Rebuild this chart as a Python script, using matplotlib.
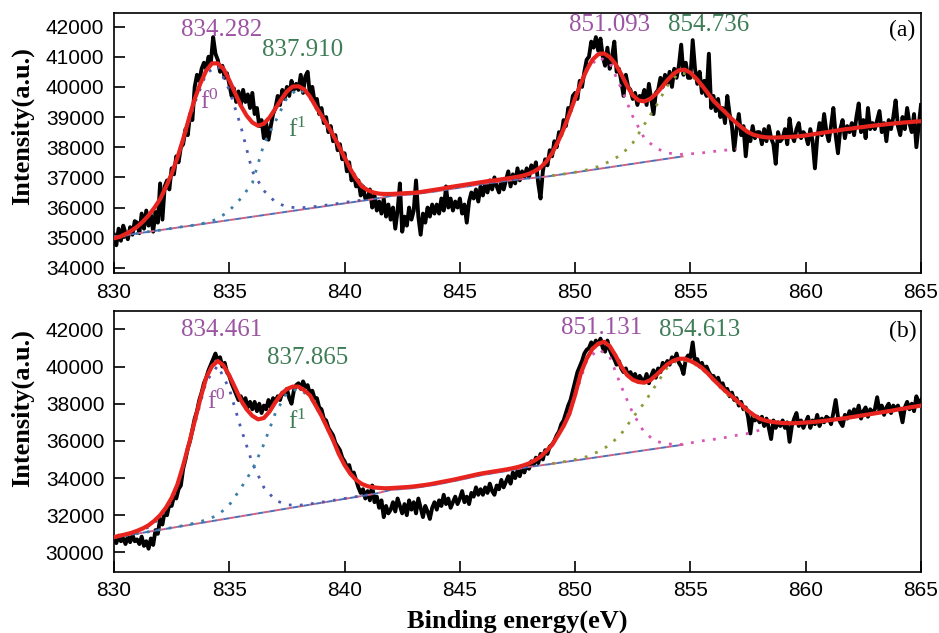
import numpy as np
import matplotlib
matplotlib.use("Agg")
import matplotlib.pyplot as plt

plt.rcParams['font.family'] = 'Liberation Sans'
plt.rcParams['mathtext.fontset'] = 'custom'
plt.rcParams['mathtext.rm'] = 'Liberation Serif'
plt.rcParams['mathtext.it'] = 'Liberation Serif:italic'

# binding energy grids (eV)
energy = np.linspace(830, 865, 351)      # measured spectrum, 0.1 eV step
energy_fit = np.linspace(830, 865, 141)  # fitted envelope, 0.25 eV step

# ---- panel (a) measured spectrum ----
spec_a = [
    35100, 34750, 35300, 34900, 35400, 35150, 34950, 35350, 35100, 35550,
    35500, 35150, 35800, 35300, 35900, 35400, 35750, 35200, 35850, 35500,
    36800, 35600, 36700, 36900, 36600, 37300, 37100, 37700, 37500, 38000,
    38100, 38600, 38400, 39100, 38900, 40000, 40400, 40200, 40600, 40800,
    40600, 41000, 40800, 41650, 41100, 40900, 40500, 40700, 40300, 40450,
    40100, 39700, 39950, 39500, 39850, 39400, 39900, 39500, 39750, 39300,
    39800, 39100, 39300, 38700, 38900, 38300, 38800, 38250, 38700, 39100,
    39300, 39700, 39400, 39900, 39600, 40000, 39700, 40200, 39900, 40100,
    39900, 40400, 39800, 40350, 40500, 39700, 40000, 39500, 39600, 39100,
    39300, 38800, 39000, 38500, 38700, 38200, 38400, 37900, 38100, 37600,
    37800, 37200, 37500, 36900, 37100, 36700, 36900, 36400, 36700, 36300,
    36300, 36600, 36000, 36400, 35900, 36200, 35800, 36300, 35700, 36100,
    35600, 36000, 35300, 35900, 36800, 35200, 35700, 35400, 36000, 35600,
    35900, 36900, 35700, 35100, 35800, 35500, 36000, 35700, 36100, 35800,
    36100, 35800, 36300, 35900, 36700, 36000, 36300, 35900, 36200, 36000,
    36300, 35800, 36100, 35500, 36200, 36500, 36300, 36600, 36200, 36700,
    36400, 36800, 36500, 36900, 36600, 37000, 36700, 36500, 36900, 36600,
    36900, 37200, 36700, 37100, 36800, 37300, 36900, 37200, 37000, 37300,
    37000, 37400, 37200, 37500, 36800, 36300, 37200, 37600, 37400, 37900,
    37700, 38200, 38000, 38500, 38400, 38900, 38700, 39300, 39200, 39700,
    39800, 39600, 40200, 40000, 40500, 40900, 41000, 41500, 41300, 41650,
    41200, 41600, 41000, 40700, 41300, 40600, 41000, 41500, 40500, 40600,
    40200, 39700, 40400, 40000, 39900, 39600, 39800, 39400, 39700, 39600,
    39900, 39400, 40100, 39600, 39100, 39800, 39900, 40300, 40000, 40400,
    40100, 40500, 40000, 40600, 40300, 40700, 41400, 40400, 40800, 40300,
    40300, 41550, 40600, 40100, 40500, 39800, 40200, 39700, 41100, 39300,
    39700, 39200, 39600, 39000, 39300, 38800, 39700, 39100, 38700, 37900,
    38600, 39100, 38400, 38700, 37700, 38500, 38200, 38700, 38300, 38500,
    38500, 38100, 38600, 38200, 38700, 38300, 38100, 37450, 38500, 38200,
    38300, 38600, 38100, 38950, 38400, 38200, 38600, 38800, 38300, 38500,
    38400, 38100, 38600, 38200, 37300, 38300, 38800, 38400, 39100, 38500,
    38200, 38700, 39300, 38400, 37800, 38600, 38900, 38300, 38700, 38500,
    38800, 38400, 39000, 39450, 38500, 38900, 38300, 39300, 38600, 38800,
    38600, 38900, 39200, 38500, 38800, 38200, 38900, 38600, 39000, 39550,
    38700, 38400, 39000, 38600, 39300, 38800, 38500, 39100, 38000, 38700,
    39400]

fit_a = [
    34980, 35030, 35120, 35230, 35360, 35530, 35740, 35990, 36280, 36680,
    37120, 37650, 38270, 38950, 39600, 40120, 40540, 40780, 40780, 40600,
    40220, 39800, 39380, 39050, 38820, 38710, 38780, 38990, 39280, 39580,
    39850, 40010, 40020, 39920, 39680, 39350, 39050, 38740, 38410, 38040,
    37660, 37280, 36960, 36700, 36580, 36500, 36460, 36450, 36450, 36460,
    36470, 36480, 36490, 36510, 36540, 36570, 36600, 36630, 36670, 36700,
    36730, 36760, 36790, 36820, 36850, 36880, 36900, 36930, 36960, 36990,
    37020, 37060, 37120, 37210, 37330, 37520, 37800, 38170, 38600, 39100,
    39620, 40120, 40560, 40900, 41080, 41110, 40990, 40760, 40420, 40040,
    39720, 39550, 39520, 39600, 39760, 39980, 40220, 40420, 40550, 40570,
    40470, 40280, 40050, 39800, 39540, 39350, 39170, 38970, 38800, 38640,
    38500, 38410, 38360, 38330, 38320, 38320, 38330, 38340, 38350, 38370,
    38390, 38420, 38450, 38480, 38510, 38540, 38570, 38600, 38620, 38650,
    38670, 38700, 38720, 38740, 38760, 38780, 38800, 38820, 38830, 38850,
    38860]

# components of (a): f0 / f1 peaks, the two peaks near 851 / 855, background
f0_a_x = np.linspace(830, 841, 23)
f0_a = [34990, 35110, 35330, 35700, 36240, 37060, 38180, 39460, 40450, 40700,
        39900, 38700, 37200, 36560, 36180, 36020, 35990, 36010, 36060, 36110,
        36170, 36220, 36270]
f1_a_x = np.linspace(830, 841.5, 24)
f1_a = [35030, 35085, 35140, 35200, 35250, 35310, 35370, 35420, 35500, 35620,
        35900, 36300, 36810, 38100, 38850, 39640, 39950, 39630, 38980, 38370,
        37610, 36940, 36580, 36460]
pk3_a_x = np.linspace(849, 857, 17)
pk3_a = [37780, 38580, 39600, 40520, 40990, 40800, 39950, 39020, 38300, 37970,
         37810, 37760, 37780, 37810, 37860, 37900, 37940]
pk4_a_x = np.linspace(849, 858, 19)
pk4_a = [37060, 37110, 37170, 37250, 37360, 37530, 37750, 38140, 38750, 39350,
         40030, 40470, 40410, 40020, 39540, 39170, 38800, 38500, 38360]
bg_a_x = [830, 841, 842, 843, 844, 845, 846, 847, 848, 848.8, 854.7]
bg_a = [35030, 36250, 36380, 36440, 36540, 36660, 36780, 36880, 36970, 37030, 37700]

# ---- panel (b) measured spectrum ----
spec_b = [
    30800, 30500, 30900, 30600, 30750, 30450, 30850, 30550, 30950, 30600,
    30700, 30450, 30850, 30350, 30600, 30200, 30750, 30400, 31200, 31000,
    31800, 31500, 32200, 32000, 32600, 32500, 33000, 32900, 33400, 33600,
    34500, 35000, 35600, 36000, 36600, 37200, 37600, 38200, 38600, 39100,
    39400, 39800, 40100, 40400, 40700, 40300, 40500, 40000, 40200, 39700,
    39500, 39100, 38800, 38500, 38200, 38400, 38000, 38300, 37800, 38100,
    37700, 38100, 37600, 38000, 37500, 37900, 37700, 38200, 37800, 38300,
    38100, 38400, 38200, 38600, 38500, 38800, 38300, 38000, 38700, 39000,
    39100, 38800, 39200, 38900, 39000, 38500, 38700, 38300, 38300, 37800,
    37700, 37200, 37100, 36700, 36500, 36300, 35900, 35700, 35500, 35100,
    34900, 34600, 34700, 34200, 34300, 33900, 33500, 33200, 33400, 32900,
    33300, 32800, 33600, 32700, 33000, 32400, 32800, 31900, 32500, 32100,
    32300, 32700, 32200, 32900, 32500, 32100, 32600, 32000, 32800, 32300,
    32700, 32100, 32900, 32400, 31900, 32500, 32200, 31800, 32400, 32700,
    32300, 32800, 32500, 33100, 32600, 32900, 32400, 32700, 33000, 32600,
    32900, 33300, 32700, 33000, 32600, 33200, 33000, 33500, 33100, 33400,
    33100, 33500, 33200, 33700, 33300, 33100, 33600, 33400, 33900, 33500,
    33800, 34100, 33700, 34300, 34000, 34400, 34100, 34600, 34300, 34700,
    34500, 34900, 34700, 35100, 34800, 35300, 35000, 35500, 35300, 35700,
    35800, 36000, 36300, 36500, 36900, 37100, 37500, 37900, 38200, 38700,
    39200, 39700, 40000, 40300, 40700, 40900, 41000, 41300, 41100, 41400,
    41200, 41500, 41000, 40800, 41400, 40900, 40600, 40400, 40100, 40300,
    39900, 39700, 39900, 39500, 39700, 39400, 39600, 39200, 39500, 39300,
    39200, 39600, 39100, 39500, 39800, 39400, 39900, 39700, 40200, 40000,
    40300, 40100, 40500, 40300, 40700, 40200, 40000, 39600, 40400, 40600,
    40500, 41300, 40200, 40400, 40000, 40200, 39800, 40000, 39700, 39500,
    39500, 39200, 39400, 39000, 39100, 38700, 38800, 38400, 38600, 38200,
    38300, 37900, 38100, 37700, 37800, 37300, 36400, 37400, 37100, 37300,
    37000, 37300, 36800, 37200, 36700, 36100, 37100, 36700, 37000, 36800,
    37100, 36700, 37000, 35950, 36800, 37200, 37500, 36800, 37100, 36700,
    37000, 37300, 36700, 37100, 36900, 37400, 36800, 37200, 37000, 37300,
    37200, 36900, 37500, 38200, 37300, 37000, 36800, 37400, 37200, 37600,
    37300, 37700, 37400, 37900, 37200, 37600, 37800, 37300, 37700, 37500,
    37700, 38350, 37600, 37900, 37400, 37800, 38000, 37500, 37900, 37700,
    37900, 37600, 37000, 37800, 38100, 37700, 38000, 37600, 38400, 38000,
    38200]

fit_b = [
    30820, 30900, 30970, 31050, 31160, 31290, 31460, 31700, 32000, 32400,
    32930, 33650, 34680, 35830, 37070, 38290, 39400, 40020, 40300, 40060,
    39520, 38870, 38200, 37700, 37350, 37160, 37230, 37580, 38080, 38510,
    38790, 38920, 38920, 38730, 38450, 37900, 37350, 36700, 36050, 35300,
    34700, 34230, 33900, 33680, 33560, 33500, 33470, 33450, 33460, 33480,
    33500, 33520, 33550, 33590, 33630, 33680, 33740, 33800, 33860, 33920,
    33990, 34060, 34130, 34200, 34260, 34310, 34360, 34410, 34460, 34520,
    34590, 34680, 34790, 34950, 35150, 35450, 35780, 36280, 36800, 37450,
    38480, 39650, 40420, 40950, 41230, 41330, 41100, 40600, 40000, 39550,
    39290, 39170, 39130, 39260, 39520, 39820, 40120, 40310, 40420, 40420,
    40300, 40150, 39930, 39640, 39300, 39000, 38700, 38450, 38180, 37900,
    37620, 37390, 37200, 37100, 37030, 36990, 36960, 36950, 36950, 36970,
    36990, 37010, 37040, 37070, 37110, 37150, 37190, 37230, 37280, 37330,
    37380, 37430, 37480, 37530, 37580, 37630, 37690, 37740, 37800, 37850,
    37900]

f0_b_x = np.linspace(830, 841, 23)
f0_b = [30810, 30920, 31080, 31360, 31850, 32780, 34550, 36900, 39200, 40050,
        38800, 36700, 34800, 33500, 32800, 32560, 32530, 32610, 32700, 32800,
        32900, 33000, 33100]
f1_b_x = np.linspace(830, 841.5, 24)
f1_b = [30800, 30900, 31010, 31110, 31220, 31330, 31440, 31580, 31750, 32000,
        32550, 33450, 34450, 35820, 37500, 38580, 38820, 38380, 37300, 36000,
        34650, 33880, 33540, 33350]
pk3_b_x = np.linspace(849, 858, 19)
pk3_b = [35770, 36780, 38430, 40310, 40940, 40540, 38930, 37500, 36450, 35980,
         35840, 35790, 35890, 36000, 36080, 36180, 36300, 36400, 36580]
pk4_b_x = np.linspace(849, 858, 19)
pk4_b = [34780, 34880, 35000, 35150, 35420, 35780, 36380, 37250, 38050, 39000,
         39950, 40390, 40260, 39890, 39250, 38600, 38080, 37520, 37100]
bg_b_x = [830, 841.3, 842, 843, 844, 845, 846, 847, 848, 848.8, 854.7]
bg_b = [30800, 33150, 33360, 33460, 33650, 33900, 34170, 34370, 34600, 34730, 35800]

# peak labels: (text, x, y, colour)
purple = '#9c54a3'
green = '#3f7d57'
labels_a = [('834.282', 834.65, 41900, purple), ('837.910', 838.2, 41230, green),
            ('851.093', 851.5, 42060, purple), ('854.736', 855.8, 42060, green)]
labels_b = [('834.461', 834.65, 41950, purple), ('837.865', 838.4, 40480, green),
            ('851.131', 851.15, 42100, purple), ('854.613', 855.4, 41950, green)]
f_a = [(834.15, 39520), (837.95, 38580)]
f_b = [(834.45, 38090), (837.95, 37030)]

fig = plt.figure(figsize=(9.39, 6.33), dpi=100)
ax_a = fig.add_axes([0.1214, 0.5687, 0.8594, 0.4108])
ax_b = fig.add_axes([0.1214, 0.0968, 0.8594, 0.4122])

dot = (0, (1, 3))


def draw(ax, spec, fit, f0x, f0, f1x, f1, p3x, p3, p4x, p4, bgx, bg):
    ax.plot(energy, spec, color='black', lw=2.8, zorder=2)
    ax.plot(bgx, bg, color='#d0607f', lw=1.4, ls=(0, (3, 3)), zorder=3)
    ax.plot(bgx, bg, color='#4a6fb8', lw=1.4, ls=(3, (3, 3)), zorder=3)
    ax.plot(f0x, f0, color='#4b5cb0', lw=2, ls=dot, zorder=3)
    ax.plot(f1x, f1, color='#3a7fa8', lw=2, ls=dot, zorder=3)
    ax.plot(p3x, p3, color='#d757b5', lw=2, ls=dot, zorder=3)
    ax.plot(p4x, p4, color='#8c9a3c', lw=2, ls=dot, zorder=3)
    ax.plot(energy_fit, fit, color='#e8241f', lw=3.0, zorder=4)
    ax.set_xlim(830, 865)
    ax.set_xticks(np.arange(830, 866, 5))
    ax.tick_params(direction='in', length=8, width=1.2, labelsize=15, pad=7,
                   top=False, right=False)
    for s in ax.spines.values():
        s.set_linewidth(1.2)


draw(ax_a, spec_a, fit_a, f0_a_x, f0_a, f1_a_x, f1_a, pk3_a_x, pk3_a, pk4_a_x, pk4_a, bg_a_x, bg_a)
draw(ax_b, spec_b, fit_b, f0_b_x, f0_b, f1_b_x, f1_b, pk3_b_x, pk3_b, pk4_b_x, pk4_b, bg_b_x, bg_b)

ax_a.set_ylim(33830, 42450)
ax_a.set_yticks(np.arange(34000, 42001, 1000))
ax_b.set_ylim(28960, 43000)
ax_b.set_yticks(np.arange(30000, 42001, 2000))

for ax, labs, fpos, tag, tagy in [(ax_a, labels_a, f_a, '(a)', 41860),
                                   (ax_b, labels_b, f_b, '(b)', 41910)]:
    for t, x, y, c in labs:
        ax.text(x, y, t, color=c, fontsize=18, family='Liberation Serif',
                ha='center', va='center', zorder=6)
    ax.text(fpos[0][0], fpos[0][1], r'f$^{0}$', color=purple, fontsize=18,
            family='Liberation Serif', ha='center', va='center', zorder=6)
    ax.text(fpos[1][0], fpos[1][1], r'f$^{1}$', color=green, fontsize=18,
            family='Liberation Serif', ha='center', va='center', zorder=6)
    ax.text(864.2, tagy, tag, color='black', fontsize=17,
            family='Liberation Serif', ha='center', va='center', zorder=6)

fig.text(22 / 939, 1 - 126 / 633, 'Intensity(a.u.)', rotation=90, ha='center',
         va='center', fontsize=19, fontweight='bold', family='Liberation Serif')
fig.text(22 / 939, 1 - 408 / 633, 'Intensity(a.u.)', rotation=90, ha='center',
         va='center', fontsize=19, fontweight='bold', family='Liberation Serif')
fig.text(517 / 939, 0.008, 'Binding energy(eV)', ha='center', va='baseline',
         fontsize=19, fontweight='bold', family='Liberation Serif')

fig.savefig('out.png', dpi=100)
